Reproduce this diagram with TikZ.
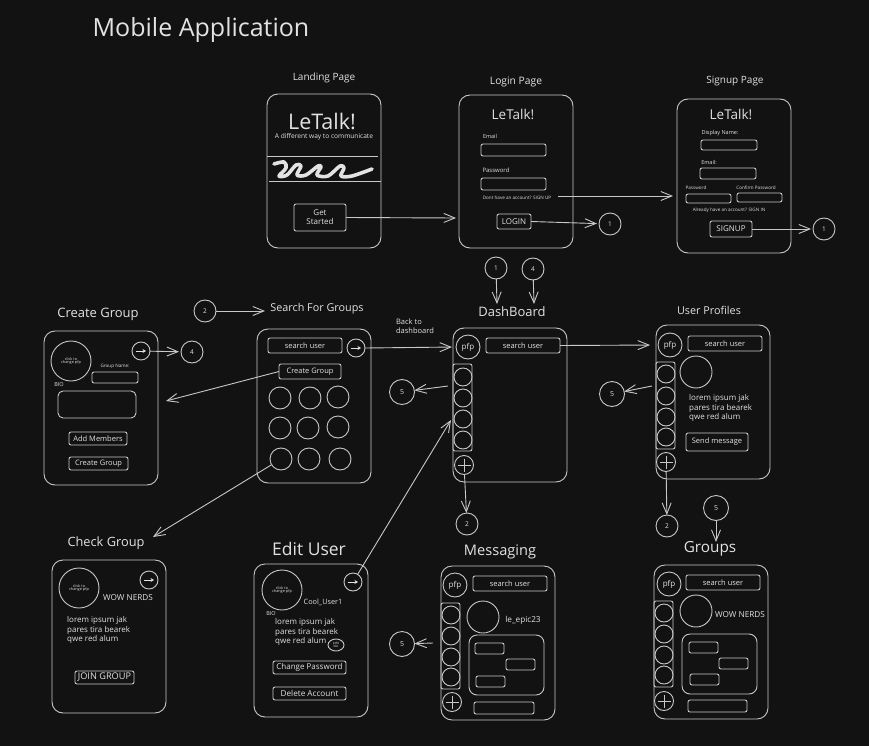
\documentclass[tikz,border=0pt]{standalone}
\usepackage{fontspec}
\setmainfont{Open Sans}
\usetikzlibrary{arrows.meta,shapes.geometric}
\definecolor{bgc}{HTML}{121212}
\definecolor{ink}{HTML}{C8C8C8}
\definecolor{txt}{HTML}{E2E2E2}
\newcommand\fs[1]{\fontsize{#1}{#1}\selectfont}
\tikzset{
  base/.style={draw=ink,line width=.9pt,inner sep=0pt,outer sep=0pt,text=txt,align=center},
  frame/.style={base,rounded corners=11pt},
  box/.style={base,rounded corners=2pt},
  ring/.style={base,circle},
  lab/.style={text=txt,inner sep=0pt,align=center},
  left lab/.style={lab,align=left,anchor=west},
  conn/.style={draw=ink,line width=.9pt,-{Straight Barb[length=11pt,width=9pt,line width=.9pt]}},
  plain/.style={draw=ink,line width=.9pt}
}
\newcommand\bx[7][]{\pgfmathsetmacro\bw{#5-#3}\pgfmathsetmacro\bh{#6-#4}\pgfmathsetmacro\bcx{(#3+#5)/2}\pgfmathsetmacro\bcy{(#4+#6)/2}%
  \node[box,minimum width=\bw pt,minimum height=\bh pt,#1] (#2) at (\bcx,\bcy) {#7};}
\newcommand\cc[6][]{\pgfmathsetmacro\bd{2*#5}\node[ring,minimum size=\bd pt,#1] (#2) at (#3,#4) {#6};}
\newcommand\tx[5][]{\node[lab,font=\fs{#5},#1] (#2) at (#3) {#4};}
\newcommand\rail[5]{% prefix, x, y1..y4 in list, plus pos
  \foreach \i/\yy in {#3}{\cc{#1c\i}{#2}{\yy}{9}{}}
  \cc{#1plus}{#4}{#5}{9.5}{}
  \draw[plain,shorten <=3pt,shorten >=3pt] (#1plus.west) -- (#1plus.east);
  \draw[plain,shorten <=3pt,shorten >=3pt] (#1plus.north) -- (#1plus.south);}
\newcommand\go[3]{\cc{#1}{#2}{#3}{9}{}%
  \draw[draw=txt,line width=1pt,-{Stealth[length=3.5pt,width=4pt]}] ([xshift=-5pt]#1.center) -- ([xshift=5pt]#1.center);}
\begin{document}
\begin{tikzpicture}[x=1pt,y=-1pt]
\path[fill=bgc,use as bounding box] (0,0) rectangle (869,746);
\tx{title}{201,30}{Mobile Application}{25}

% Landing
\tx{tland}{324,78}{Landing Page}{10}
\bx[frame]{land}{267}{94}{381}{248}{}
\tx{lt1}{322,121}{LeTalk!}{21.5}
\tx{sub1}{324,137}{A different way to communicate}{6.6}
\coordinate (l1a) at (267,156); \coordinate (l1b) at (378,156);
\coordinate (l2a) at (269,181); \coordinate (l2b) at (381,181);
\draw[plain] (l1a) -- (l1b) (l2a) -- (l2b);
\draw[color=txt,line width=3.6pt,line cap=round,line join=round] plot[smooth,tension=.55] coordinates {(274,164) (284,162) (286,168) (279,176) (287,175) (296,165) (301,166) (297,175) (306,175) (318,166) (321,167) (317,175) (328,176) (340,166) (344,168) (341,176) (352,176) (372,169)};
\bx[font=\fs{8}]{gs}{294}{204}{346}{231}{Get\\[1pt]Started}

% Login
\tx{tlog}{516,82}{Login Page}{10.3}
\bx[frame]{login}{459}{95}{573}{248}{}
\tx{lt2}{513,114}{LeTalk!}{13.5}
\tx{lem}{490,136}{Email}{5.5}
\bx{lemb}{481}{144}{546}{156}{}
\tx{lpw}{496,170}{Password}{6}
\bx{lpwb}{481}{178}{546}{190}{}
\tx{lnote}{517,198}{Dont have an account? SIGN UP}{4.6}
\bx[font=\fs{8}]{lbtn}{497}{214}{531}{229}{LOGIN}
\coordinate (lout) at (558,196);
\coordinate (lin) at (456,218);
\coordinate (sin) at (673,196);
\draw[conn] (gs.east) -- (lin);
\draw[conn] (lout) -- (sin);

% Signup
\tx{tsig}{735,81}{Signup Page}{10}
\bx[frame]{sign}{677}{99}{791}{253}{}
\tx{lt3}{731,114}{LeTalk!}{13.5}
\tx{sdn}{720,133}{Display Name:}{5.5}
\bx{sdnb}{701}{140}{757}{150}{}
\tx{sem}{709,162}{Email:}{5.5}
\bx{semb}{700}{168}{756}{179}{}
\tx{spw}{696,188}{Password}{4.6}
\bx{spwb}{686}{194}{731}{203}{}
\tx{scp}{756,188}{Confirm Password}{4.6}
\bx{scpb}{737}{193}{782}{202}{}
\tx{snote}{729,210}{Already have an account? SIGN IN}{4.6}
\bx[font=\fs{8}]{sbtn}{710}{221}{752}{237}{SIGNUP}
\cc[font=\fs{6.5}]{c1a}{610}{224}{11}{1}
\cc[font=\fs{6.5}]{c1b}{824}{229}{11}{1}
\draw[conn,shorten >=2pt] (lbtn.east) -- (c1a);
\draw[conn,shorten >=2pt] (sbtn.east) -- (c1b);

% Dashboard
\cc[font=\fs{6.5}]{c1c}{496}{268}{11}{1}
\cc[font=\fs{6.5}]{c4a}{533}{269}{11}{4}
\tx{tdash}{512,312}{DashBoard}{13}
\coordinate (d1) at (497,304); \coordinate (d4) at (534,304);
\draw[conn] (c1c) -- (d1);
\draw[conn] (c4a) -- (d4);
\bx[frame]{dash}{453}{328}{567}{482}{}
\cc[font=\fs{8}]{dpfp}{468}{347}{12}{pfp}
\bx[font=\fs{7.5}]{dsearch}{486}{338}{560}{353}{search user}
\bx{dside}{453}{364}{472}{451}{}
\rail{d}{463}{1/377,2/398,3/419,4/440}{464}{465}
\cc[font=\fs{6.5}]{c2a}{467}{524}{11}{2}
\cc[font=\fs{7}]{c5a}{402}{392}{12.5}{5}
\coordinate (dfive) at (448,386);
\draw[conn] (dfive) -- (c5a);
\draw[conn] (dplus) -- (c2a);
\tx[align=left]{back}{415,326}{Back to\\[1pt]dashboard}{7.5}

% User profiles
\tx{tuser}{709,310}{User Profiles}{10.8}
\bx[frame]{user}{656}{325}{770}{479}{}
\cc[font=\fs{8}]{upfp}{670}{345}{12}{pfp}
\bx[font=\fs{7.5}]{usearch}{688}{336}{762}{351}{search user}
\bx{uside}{656}{362}{675}{449}{}
\rail{u}{666}{1/374,2/396,3/417,4/437}{666}{462}
\cc{ubig}{696}{372}{16}{}
\tx[left lab]{ulor}{689,408}{lorem ipsum jak\\[1.5pt]pares tira bearek\\[1.5pt]qwe red alum}{8}
\bx[font=\fs{7.5}]{usend}{686}{433}{748}{451}{Send message}
\cc[font=\fs{7}]{c5b}{612}{394}{12.5}{5}
\coordinate (ufive) at (652,386);
\draw[conn] (ufive) -- (c5b);
\cc[font=\fs{6.5}]{c2b}{667}{526}{11}{2}
\draw[conn] (uplus) -- (c2b);
\draw[conn,shorten >=8pt] (dsearch.east) -- (upfp.west);

% Groups
\cc[font=\fs{7}]{c5c}{716}{508}{12.5}{5}
\coordinate (ggo) at (716,542);
\draw[conn] (c5c) -- (ggo);
\tx{tgr}{710,549}{Groups}{15.3}
\bx[frame]{grp}{654}{565}{768}{719}{}
\cc[font=\fs{8}]{gpfp}{669}{584}{12}{pfp}
\bx[font=\fs{7.5}]{gsearch}{686}{575}{760}{590}{search user}
\bx{gside}{654}{601}{673}{687}{}
\rail{g}{664}{1/613,2/634,3/655,4/675}{664}{701}
\cc{gbig}{696}{611}{16}{}
\tx{gname}{740,615}{WOW NERDS}{8.2}
\bx[rounded corners=8pt]{gchat}{682}{634}{757}{694}{}
\bx{gb1}{689}{642}{718}{653}{}
\bx{gb2}{719}{658}{748}{669}{}
\bx{gb3}{690}{674}{719}{685}{}
\bx{gin}{688}{700}{747}{712}{}

% Messaging
\tx{tmsg}{500,552}{Messaging}{14.6}
\bx[frame]{msg}{441}{566}{555}{720}{}
\cc[font=\fs{8}]{mpfp}{455}{585}{12}{pfp}
\bx[font=\fs{7.5}]{msearch}{473}{576}{547}{591}{search user}
\bx{mside}{441}{603}{460}{689}{}
\rail{m}{451}{1/615,2/636,3/657,4/677}{452}{702}
\cc{mbig}{483}{617}{16}{}
\tx{mname}{523,620}{le\_epic23}{8.2}
\bx[rounded corners=8pt]{mchat}{469}{635}{544}{695}{}
\bx{mb1}{475}{643}{504}{654}{}
\bx{mb2}{506}{659}{535}{670}{}
\bx{mb3}{476}{676}{505}{687}{}
\bx{min}{474}{702}{534}{714}{}
\cc[font=\fs{7}]{c5d}{402}{644}{12.5}{5}
\coordinate (mfive) at (433,643);
\draw[conn] (mfive) -- (c5d);

% Search for groups
\tx{tsearch}{317,309}{Search For Groups}{10.8}
\cc[font=\fs{6.5}]{c2c}{205}{311}{11}{2}
\coordinate (sgo) at (265,311);
\draw[conn] (c2c) -- (sgo);
\bx[frame]{srch}{257}{329}{371}{483}{}
\bx[font=\fs{7.5}]{ssearch}{268}{338}{342}{353}{search user}
\go{sarrow}{356}{348}
\bx[font=\fs{7.5}]{screate}{279}{364}{341}{379}{Create Group}
\foreach \n/\x/\y in {1/280/398,2/310/398,3/338/397,4/280/428,5/308/428,6/338/427,7/281/459,8/309/459,9/340/459}{\cc{sg\n}{\x}{\y}{11}{}}
\draw[conn,shorten >=4pt] (sarrow.east) -- (dpfp.west);

% Create group
\tx{tcreate}{98,314}{Create Group}{13}
\bx[frame]{cg}{44}{331}{158}{485}{}
\cc[font=\fs{3.8}]{cgpic}{71}{361}{20}{click to\\change pfp}
\go{cgarrow}{141}{351}
\cc[font=\fs{6.5}]{c4b}{192}{352}{11}{4}
\draw[conn,shorten >=2pt] (cgarrow) -- (c4b);
\tx{cgn}{115,366}{Group Name:}{4.6}
\bx{cgnb}{92}{372}{138}{383}{}
\tx{cgbio}{59,385}{BIO}{5.5}
\bx[rounded corners=5pt]{cgbb}{58}{391}{136}{418}{}
\bx[font=\fs{7.5}]{cgadd}{69}{432}{127}{445}{Add Members}
\bx[font=\fs{7.5}]{cgcr}{69}{457}{128}{470}{Create Group}
\coordinate (cgin) at (166,401);
\draw[conn] (screate.west) -- (cgin);

% Check group
\tx{tcheck}{106,543}{Check Group}{12.8}
\bx[frame]{ck}{52}{560}{166}{713}{}
\cc[font=\fs{3.8}]{ckpic}{79}{588}{20}{click to\\change pfp}
\go{ckarrow}{149}{580}
\tx{ckname}{128,598}{WOW NERDS}{8.2}
\tx[left lab]{cklor}{67,630}{lorem ipsum jak\\[1.5pt]pares tira bearek\\[1.5pt]qwe red alum}{8}
\bx[font=\fs{9.2}]{ckjoin}{75}{671}{134}{684}{JOIN GROUP}
\coordinate (ckin) at (153,537);
\draw[conn] (sg7) -- (ckin);

% Edit user
\tx{tedit}{309,549}{Edit User}{17.5}
\bx[frame]{ed}{254}{564}{368}{717}{}
\cc[font=\fs{3.8}]{edpic}{282}{590}{20}{click to\\change pfp}
\go{edarrow}{353}{582}
\tx{edname}{323,602}{Cool\_User1}{7.3}
\tx{edbio}{271,614}{BIO}{5.5}
\tx[left lab]{edlor}{275,632}{lorem ipsum jak\\[1.5pt]pares tira bearek\\[1.5pt]qwe red alum}{8}
\node[base,ellipse,minimum width=16pt,minimum height=12pt,font=\fs{3.4}] (edb) at (336,645) {edit\\bio};
\bx[font=\fs{8}]{edpw}{273}{661}{346}{674}{Change Password}
\bx[font=\fs{8.2}]{eddel}{273}{687}{346}{700}{Delete Account}
\coordinate (edin) at (451,420);
\draw[conn] (edarrow) -- (edin);
\end{tikzpicture}
\end{document}
